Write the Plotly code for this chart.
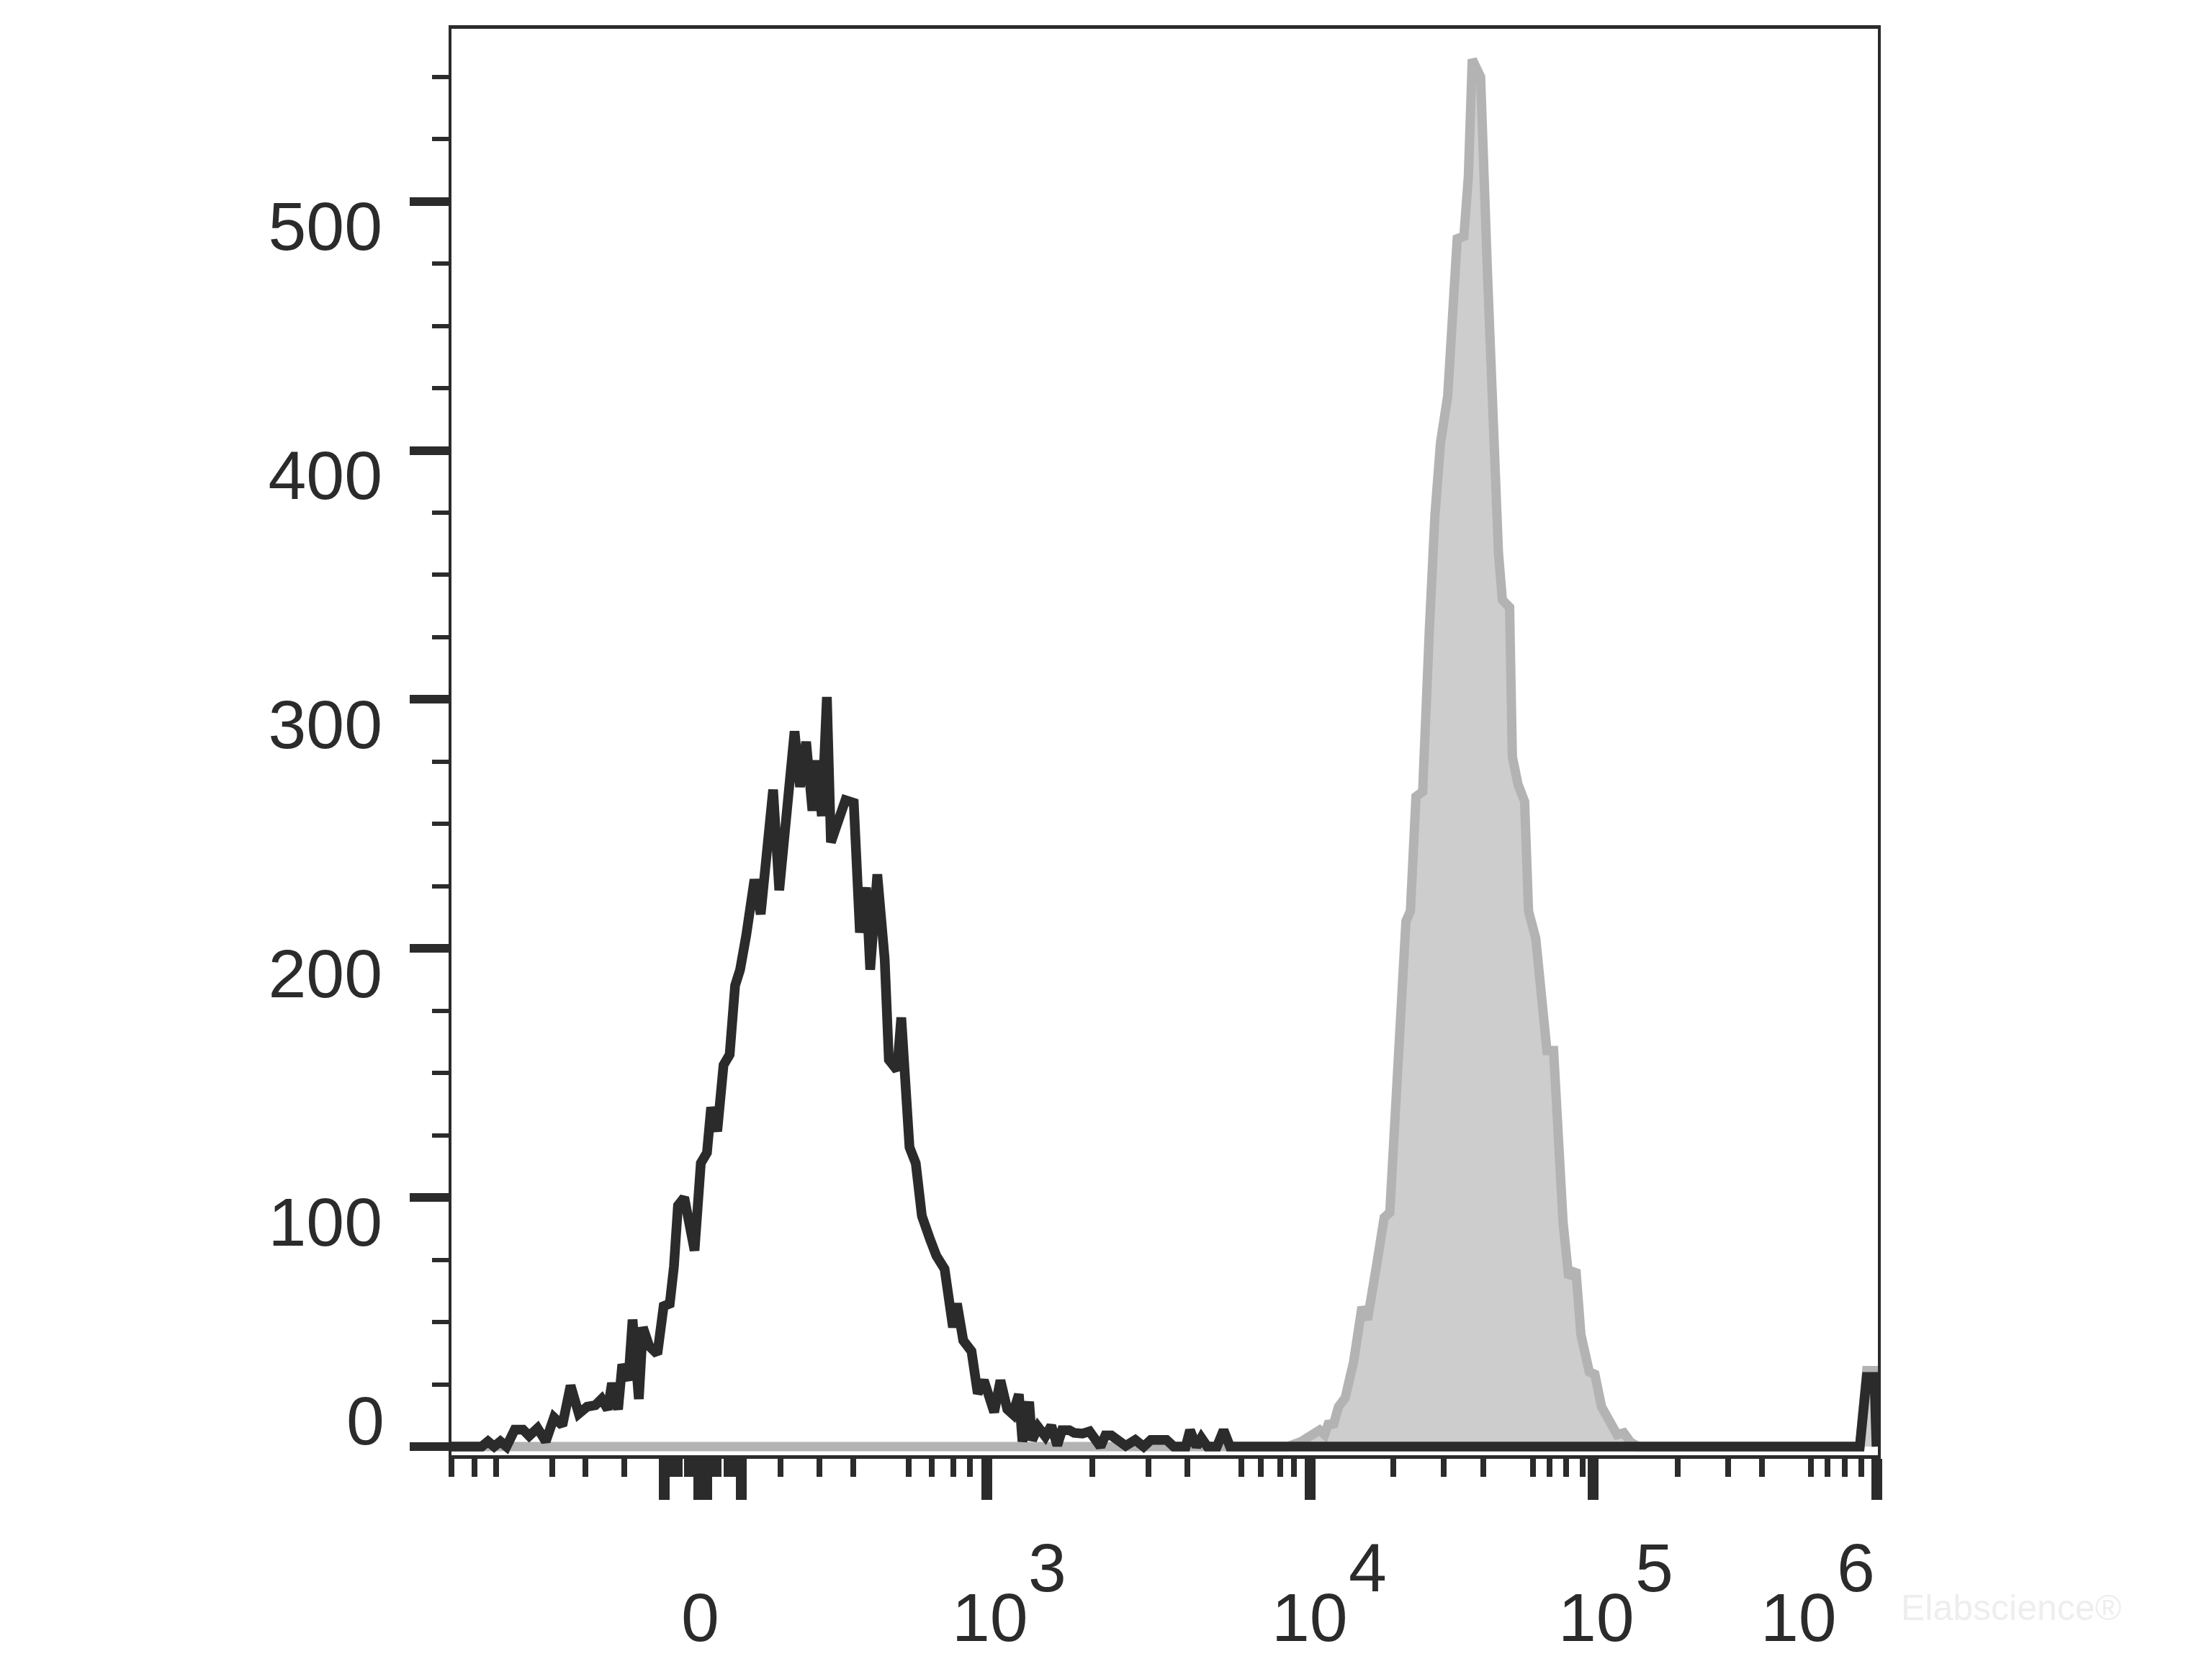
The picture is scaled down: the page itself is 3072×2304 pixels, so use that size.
import plotly.graph_objects as go

# ---------------- data ----------------
# x values are positions on the biexponential display scale (0..1024 channels),
# y values are event counts.
black_channel = [0, 21.7, 26.2, 30.6, 35.1, 39.5, 45.4, 51.4, 55.8, 61.8, 67.7, 73.6, 79.6,
                 85.5, 91.4, 97.4, 103.3, 107.8, 112.2, 115.2, 119.6, 122.6, 127.0, 130.0,
                 134.5, 137.4, 141.9, 147.8, 152.3, 156.7, 159.7, 162.6, 167.1, 174.5, 179.0,
                 183.4, 186.4, 190.8, 195.3, 199.7, 203.6, 207.2, 211.6, 217.5, 222.0, 226.4,
                 230.9, 235.3, 239.8, 246.3, 250.2, 254.6, 259.1, 262.0, 265.9, 269.5, 272.4,
                 278.4, 282.8, 288.8, 293.2, 297.7, 300.6, 305.7, 311.0, 314.0, 319.9, 322.9,
                 328.8, 333.3, 337.7, 343.7, 348.1, 354.0, 360.0, 362.9, 367.4, 373.3, 377.8,
                 382.2, 389.6, 394.1, 399.0, 403.0, 407.3, 409.9, 414.7, 416.8, 421.1, 426.3,
                 430.6, 434.9, 438.3, 443.5, 447.0, 453.0, 458.1, 465.9, 469.4, 473.7, 484.0,
                 490.9, 496.9, 502.1, 513.3, 518.5, 527.1, 530.2, 534.8, 538.3, 542.6, 549.5,
                 554.3, 558.9, 1011.0, 1016.0, 1021.5, 1023.0]
black_count = [0, 0, 2.1, 0, 2.1, 0, 6.8, 6.8, 4.3, 7.4, 2.1, 11.7, 8.5,
               24.5, 13.2, 16, 16.6, 19.1, 14.9, 25.5, 14.9, 33, 26.6, 51,
               19.1, 47.9, 40.4, 37.2, 56.4, 57.4, 72.3, 96.8, 100, 78.7, 113.8,
               118, 136.2, 126.6, 153.2, 157.4, 185.1, 191.5, 205.3, 227.7, 213.8, 242.6,
               263.8, 223.4, 251.1, 287.2, 264.9, 283, 255.3, 275.5, 253.2, 301, 242.6,
               253.2, 259.6, 258.5, 206.4, 224.5, 191.5, 229.8, 195.7, 155.3, 151.1, 172.3,
               120.2, 113.8, 92.6, 83, 76.6, 71.3, 47.9, 57.4, 42.6, 38.3, 21.3,
               26.6, 13.8, 26.6, 15, 13, 21, 2, 18, 2.5, 7.9, 4.1,
               8.4, 0.5, 6.6, 6.6, 5.5, 5.2, 6.1, 0, 4.5, 4.5, 0.3,
               2.7, 0, 2.7, 2.7, 0, 0, 6.6, 0, 3.5, 0, 0,
               6.6, 0, 0, 28, 28, 0]

gray_channel = [0, 600, 610, 623.2, 626.8, 630, 632.8, 636.8, 641.6, 647.6, 653.6, 657.6,
                663.6, 669.6, 673.6, 677.6, 681.6, 685.2, 688.4, 692.4, 697.2, 700, 702, 706,
                710, 715.2, 718.8, 722, 726.8, 730, 732.8, 738.8, 743.6, 747.6, 751.6, 754.4,
                759.6, 761.6, 765.6, 770.4, 773.2, 778.4, 782.4, 786.4, 791.2, 794, 798, 802,
                807.2, 810.8, 816.8, 820.8, 825.6, 831.6, 836.8, 841.6, 846.4, 852,
                1011.0, 1016.0, 1021.5, 1023.0]
gray_count = [0, 0, 2, 6.6, 4.8, 10, 8, 16, 19.6, 34, 56, 51,
              71, 92, 94, 133, 163, 211, 215, 261, 263, 317, 328, 374,
              403, 422, 466, 485, 486, 510, 557, 550, 473, 411, 359, 340,
              337, 277, 266, 259, 215, 204, 178, 159, 159, 123, 90, 68,
              71, 45, 30, 29, 16, 10, 4.8, 5.5, 1.8, 0,
              0, 30.5, 30.5, 0]

# y axis ticks
y_major = [0, 100, 200, 300, 400, 500]
y_major_text = ["", "100", "200", "300", "400", "500"]
y_minor = [25, 50, 75, 125, 150, 175, 225, 250, 275, 325, 350, 375,
           425, 450, 475, 525, 550]
y_zero_label = "0"

# x axis ticks (display-scale positions of -100, -10, 0, 10, 100, 1e3, 1e4, 1e5, 1e6 ...)
x_long_ticks = [152.5, 177.8, 180.4, 183.0, 208.3, 384.1, 616.2, 819.8, 1023.0]
x_medium_ticks = [51.7, 165.5, 194.5, 307.6, 548.4, 760.4, 960.5]
x_short_ticks = [0, 16.5, 32.0, 72.4, 96.1, 124.1,
                 155.3, 158.1, 160.9, 163.7, 169.2, 172.0, 174.8,
                 186.0, 188.8, 191.6, 197.2, 199.9, 202.7, 205.5,
                 236.2, 264.1, 288.4, 328.2, 344.8, 360.3, 372.2,
                 460.0, 500.4, 528.3, 567.0, 581.0, 595.0, 605.0,
                 676.1, 712.3, 740.7, 776.4, 788.3, 800.2, 812.1,
                 880.3, 916.5, 940.8, 975.9, 987.8, 1000.2, 1012.1]

# x tick label texts
x_label_channel = [178.5, 386.5, 616.2, 822.0, 967.0]
x_label_base = ["0", "10", "10", "10", "10"]
x_label_exp = ["", "3", "4", "5", "6"]

watermark = "Elabscience®"

# ---------------- figure ----------------
INK = "#2b2b2b"
FONT = "Arial, Liberation Sans, sans-serif"

fig = go.Figure()
fig.add_trace(go.Scatter(
    x=gray_channel, y=gray_count, mode="lines",
    line=dict(color="#b3b3b3", width=13),
    fill="tozeroy", fillcolor="#cdcdcd", hoverinfo="skip", showlegend=False))
fig.add_trace(go.Scatter(
    x=black_channel, y=black_count, mode="lines",
    line=dict(color=INK, width=13.5), hoverinfo="skip", showlegend=False))

annotations = []
for xc, base, exp in zip(x_label_channel, x_label_base, x_label_exp):
    annotations.append(dict(x=xc, xref="x", y=0, yref="paper", text=base,
                            showarrow=False, xanchor="center", yanchor="middle",
                            yshift=-225, font=dict(size=95, color=INK, family=FONT)))
    if exp:
        annotations.append(dict(x=xc, xref="x", y=0, yref="paper", text=exp,
                                showarrow=False, xanchor="center", yanchor="middle",
                                xshift=80, yshift=-156,
                                font=dict(size=95, color=INK, family=FONT)))
annotations.append(dict(x=0, xref="paper", y=0, yref="y", text=y_zero_label,
                        showarrow=False, xanchor="right", yanchor="middle",
                        xshift=-91, yshift=36, font=dict(size=95, color=INK, family=FONT)))
annotations.append(dict(x=1, xref="paper", y=0, yref="paper", text=watermark,
                        showarrow=False, xanchor="left", yanchor="middle",
                        xshift=30, yshift=-212, font=dict(size=50, color="#eeeeee", family=FONT)))

fig.update_layout(
    width=3072, height=2304,
    margin=dict(l=619, r=472, t=32, b=291),
    paper_bgcolor="white", plot_bgcolor="white",
    font=dict(family=FONT, color=INK),
    showlegend=False,
    xaxis=dict(
        range=[0, 1024], showgrid=False, zeroline=False,
        showline=True, linecolor=INK, linewidth=5, mirror=True,
        tickmode="array", tickvals=x_long_ticks, showticklabels=False,
        ticks="outside", ticklen=57, tickwidth=15, tickcolor=INK,
        minor=dict(tickmode="array", tickvals=x_short_ticks, ticks="outside",
                   ticklen=25, tickwidth=8, tickcolor=INK, showgrid=False),
    ),
    xaxis2=dict(
        range=[0, 1024], overlaying="x", anchor="y", side="bottom",
        showgrid=False, zeroline=False, showline=False,
        tickmode="array", tickvals=x_medium_ticks, showticklabels=False,
        ticks="outside", ticklen=41, tickwidth=12, tickcolor=INK,
    ),
    yaxis=dict(
        range=[-3.47, 569.3], showgrid=False, zeroline=False,
        showline=True, linecolor=INK, linewidth=4, mirror=True,
        tickmode="array", tickvals=y_major, ticktext=y_major_text,
        ticks="outside", ticklen=54, tickwidth=12, tickcolor=INK,
        tickfont=dict(size=95, color=INK, family=FONT),
        ticklabelshift=34, ticklabelstandoff=19,
        minor=dict(tickmode="array", tickvals=y_minor, ticks="outside",
                   ticklen=23, tickwidth=6, tickcolor=INK, showgrid=False),
    ),
    annotations=annotations,
)

fig.write_html("out.html")
